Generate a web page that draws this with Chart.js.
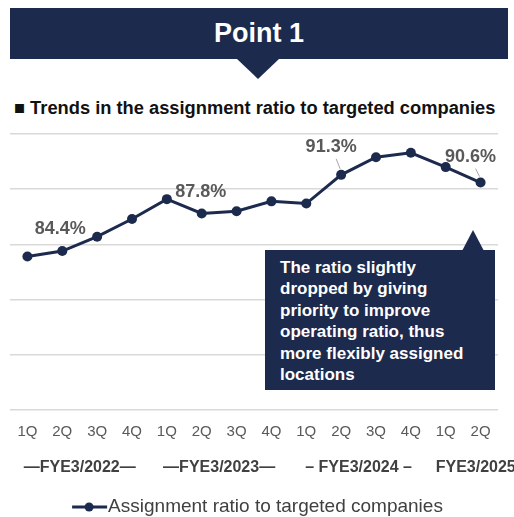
<!DOCTYPE html>
<html>
<head>
<meta charset="utf-8">
<script src="https://cdn.jsdelivr.net/npm/chart.js@4"></script>
<style>
  body { margin: 0; background: #fff; font-family: "Liberation Sans", Arial, sans-serif; }
  #wrap { position: relative; width: 514px; height: 517px; overflow: hidden; }
  .header { position: absolute; left: 10px; top: 8px; width: 498px; height: 51px; background: #1c2a4d;
    color: #fff; font-weight: bold; font-size: 27px; text-align: center; line-height: 51px; }
  .header-tip { position: absolute; left: 237px; top: 59px; width: 0; height: 0;
    border-left: 21px solid transparent; border-right: 21px solid transparent; border-top: 20px solid #1c2a4d; }
  .subtitle { position: absolute; left: 14px; top: 97px; font-size: 18.3px; font-weight: bold; color: #111; white-space: nowrap; }
  .note { position: absolute; left: 265px; top: 250px; width: 215px; height: 133px; background: #1c2a4d;
    color: #fff; font-weight: bold; font-size: 17px; line-height: 21.4px; padding: 7px 0 0 15px; z-index: 2; white-space: nowrap; }
  .note-tip { position: absolute; left: 462px; top: 230px; width: 0; height: 0; z-index: 2;
    border-left: 11px solid transparent; border-right: 11px solid transparent; border-bottom: 21px solid #1c2a4d; }
  #chartBox { position: absolute; left: 0; top: 120px; width: 514px; height: 397px; }
</style>
</head>
<body>
<div id="wrap">
  <div class="header">Point 1</div>
  <div class="header-tip"></div>
  <div class="subtitle">■ Trends in the assignment ratio to targeted companies</div>
  <div id="chartBox"><canvas id="myChart"></canvas></div>
  <div class="note-tip"></div>
  <div class="note">The ratio slightly<br>dropped by giving<br>priority to improve<br>operating ratio, thus<br>more flexibly assigned<br>locations</div>
</div>
<script>
var quarters = ['1Q', '2Q', '3Q', '4Q', '1Q', '2Q', '3Q', '4Q', '1Q', '2Q', '3Q', '4Q', '1Q', '2Q'];
var fiscalYears = ['—FYE3/2022—', '—FYE3/2023—', '– FYE3/2024 –', 'FYE3/2025'];
var yearSizes = [4, 4, 4, 2];
var ratio = [83.9, 84.4, 85.7, 87.3, 89.1, 87.8, 88.0, 88.9, 88.7, 91.3, 92.9, 93.3, 92.0, 90.6];
var valueLabels = [null, '84.4%', null, null, null, '87.8%', null, null, null, '91.3%', null, null, null, '90.6%'];
var seriesName = 'Assignment ratio to targeted companies';

var navy = '#1c2a4d';
var font = '"Liberation Sans", Arial, sans-serif';

// value labels, year labels and legend
var extras = {
  id: 'extras',
  afterDatasetsDraw: function (chart) {
    var ctx = chart.ctx;
    var meta = chart.getDatasetMeta(0);
    var styles = {
      1: { dx: -2, dy: -22 },
      5: { dx: -1, dy: -21 },
      9: { dx: -10, dy: -28, leader: true },
      13: { dx: -10, dy: -26, leader: true }
    };
    ctx.save();
    ctx.font = 'bold 18px ' + font;
    ctx.fillStyle = '#595959';
    ctx.textAlign = 'center';
    ctx.textBaseline = 'middle';
    valueLabels.forEach(function (txt, i) {
      if (!txt) return;
      var p = meta.data[i];
      var s = styles[i] || { dx: 0, dy: -22 };
      if (s.leader) {
        ctx.strokeStyle = '#a6a6a6';
        ctx.lineWidth = 1;
        ctx.beginPath();
        ctx.moveTo(p.x + s.dx + 5, p.y + s.dy + 12);
        ctx.lineTo(p.x - 1, p.y - 6);
        ctx.stroke();
      }
      ctx.fillText(txt, p.x + s.dx, p.y + s.dy);
    });
    ctx.restore();
  },
  afterDraw: function (chart) {
    var ctx = chart.ctx;
    var x = chart.scales.x;
    ctx.save();
    // fiscal year group labels
    ctx.font = 'bold 16px ' + font;
    ctx.fillStyle = '#404040';
    ctx.textAlign = 'center';
    ctx.textBaseline = 'middle';
    var start = 0;
    fiscalYears.forEach(function (name, g) {
      var end = start + yearSizes[g] - 1;
      var cx = (x.getPixelForValue(start) + x.getPixelForValue(end)) / 2;
      if (g === fiscalYears.length - 1) {
        ctx.textAlign = 'left';
        cx = x.getPixelForValue(start) - 10;
      }
      ctx.fillText(name, cx, 348);
      start = end + 1;
    });
    // legend
    ctx.font = '19px ' + font;
    var tw = ctx.measureText(seriesName).width;
    var lx = chart.width / 2 - (tw + 35) / 2;
    var ly = 387;
    ctx.strokeStyle = navy;
    ctx.lineWidth = 3;
    ctx.beginPath();
    ctx.moveTo(lx, ly);
    ctx.lineTo(lx + 35, ly);
    ctx.stroke();
    ctx.fillStyle = navy;
    ctx.beginPath();
    ctx.arc(lx + 17, ly, 4.5, 0, Math.PI * 2);
    ctx.fill();
    ctx.fillStyle = '#404040';
    ctx.textAlign = 'left';
    ctx.fillText(seriesName, lx + 36, ly);
    ctx.restore();
  }
};

new Chart(document.getElementById('myChart'), {
  type: 'line',
  data: {
    labels: quarters,
    datasets: [{
      label: seriesName,
      data: ratio,
      borderColor: navy,
      backgroundColor: navy,
      borderWidth: 3,
      pointRadius: 5,
      pointBackgroundColor: navy,
      pointBorderWidth: 0,
      tension: 0
    }]
  },
  options: {
    responsive: true,
    maintainAspectRatio: false,
    animation: false,
    layout: { padding: { left: 10, right: 16, top: 14, bottom: 0 } },
    plugins: { legend: { display: false }, tooltip: { enabled: false } },
    scales: {
      x: {
        offset: true,
        grid: { display: false, drawTicks: false },
        border: { display: false },
        ticks: { color: '#595959', font: { size: 15, family: font }, padding: 13, maxRotation: 0, autoSkip: false },
        afterFit: function (s) { s.height = 107; }
      },
      y: {
        min: 70,
        max: 95,
        ticks: { display: false, stepSize: 5 },
        grid: { color: '#d9d9d9', lineWidth: 1.5, drawTicks: false },
        border: { display: false },
        afterFit: function (s) { s.width = 0; }
      }
    }
  },
  plugins: [extras]
});
</script>
</body>
</html>
